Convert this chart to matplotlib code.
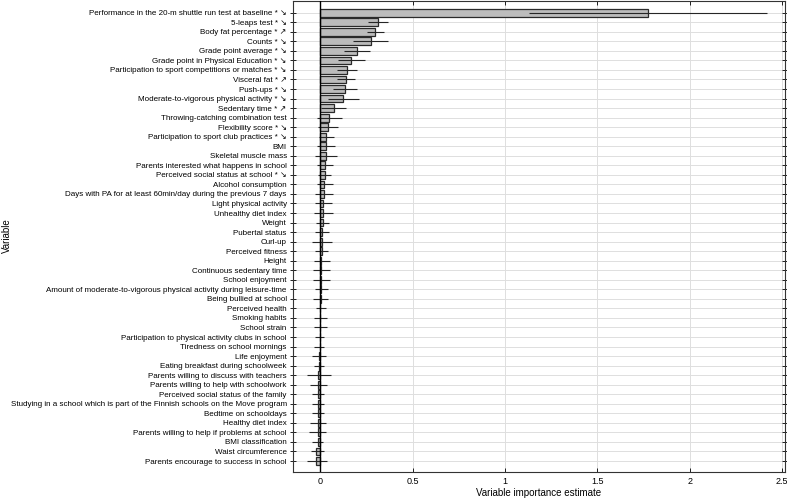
"""Variable importance estimates with uncertainty intervals (horizontal bars)."""

import matplotlib

matplotlib.use("Agg")
import matplotlib.pyplot as plt
import numpy as np

variables = [
    "Performance in the 20-m shuttle run test at baseline * \u2198",
    "5-leaps test * \u2198",
    "Body fat percentage * \u2197",
    "Counts * \u2198",
    "Grade point average * \u2198",
    "Grade point in Physical Education * \u2198",
    "Participation to sport competitions or matches * \u2198",
    "Visceral fat * \u2197",
    "Push-ups * \u2198",
    "Moderate-to-vigorous physical activity * \u2198",
    "Sedentary time * \u2197",
    "Throwing-catching combination test",
    "Flexibility score * \u2198",
    "Participation to sport club practices * \u2198",
    "BMI",
    "Skeletal muscle mass",
    "Parents interested what happens in school",
    "Perceived social status at school * \u2198",
    "Alcohol consumption",
    "Days with PA for at least 60min/day during the previous 7 days",
    "Light physical activity",
    "Unhealthy diet index",
    "Weight",
    "Pubertal status",
    "Curl-up",
    "Perceived fitness",
    "Height",
    "Continuous sedentary time",
    "School enjoyment",
    "Amount of moderate-to-vigorous physical activity during leisure-time",
    "Being bullied at school",
    "Perceived health",
    "Smoking habits",
    "School strain",
    "Participation to physical activity clubs in school",
    "Tiredness on school mornings",
    "Life enjoyment",
    "Eating breakfast during schoolweek",
    "Parents willing to discuss with teachers",
    "Parents willing to help with schoolwork",
    "Perceived social status of the family",
    "Studying in a school which is part of the Finnish schools on the Move program",
    "Bedtime on schooldays",
    "Healthy diet index",
    "Parents willing to help if problems at school",
    "BMI classification",
    "Waist circumference",
    "Parents encourage to success in school",
]

importance = [
    1.775, 0.311, 0.296, 0.276, 0.200, 0.168, 0.146, 0.139, 0.132, 0.123,
    0.074, 0.049, 0.043, 0.033, 0.033, 0.033, 0.025, 0.027, 0.022, 0.020,
    0.016, 0.015, 0.013, 0.009, 0.008, 0.008, 0.006, 0.004, 0.004, 0.004,
    0.002, 0.000, 0.000, -0.004, -0.004, -0.004, -0.005, -0.006, -0.011, -0.011,
    -0.012, -0.013, -0.013, -0.014, -0.015, -0.015, -0.021, -0.021,
]

lower = [
    1.130, 0.260, 0.255, 0.179, 0.130, 0.096, 0.089, 0.089, 0.069, 0.040,
    0.004, -0.016, -0.011, -0.005, -0.016, -0.029, -0.016, -0.014, -0.020, -0.029,
    -0.029, -0.034, -0.023, -0.027, -0.043, -0.029, -0.034, -0.038, -0.038, -0.031,
    -0.038, -0.025, -0.036, -0.036, -0.027, -0.032, -0.043, -0.034, -0.072, -0.054,
    -0.045, -0.045, -0.045, -0.057, -0.059, -0.043, -0.053, -0.070,
]

upper = [
    2.420, 0.368, 0.343, 0.368, 0.269, 0.240, 0.200, 0.186, 0.197, 0.211,
    0.139, 0.116, 0.097, 0.076, 0.080, 0.092, 0.070, 0.056, 0.067, 0.070,
    0.063, 0.067, 0.047, 0.047, 0.065, 0.043, 0.050, 0.054, 0.050, 0.044,
    0.044, 0.031, 0.035, 0.035, 0.022, 0.022, 0.033, 0.020, 0.058, 0.036,
    0.018, 0.018, 0.018, 0.029, 0.028, 0.016, 0.018, 0.035,
]

x_ticks = [0, 0.5, 1, 1.5, 2, 2.5]
x_tick_labels = ["0", "0.5", "1", "1.5", "2", "2.5"]

plt.rcParams["font.family"] = ["Liberation Sans", "DejaVu Sans"]


def plot_importance(save_path="out.png"):
    fig = plt.figure(figsize=(7.87, 4.98), dpi=100)
    ax = fig.add_axes([293 / 787, 1 - 471.7 / 498, (785 - 293) / 787, (471.7 - 1) / 498])

    values = np.asarray(importance)
    rows = np.arange(len(variables))
    xerr = np.vstack([values - np.asarray(lower), np.asarray(upper) - values])

    ax.barh(rows, values, height=0.82, color="#bcbcbc", edgecolor="#2a2a2a",
            linewidth=0.9, zorder=2)
    ax.errorbar(values, rows, xerr=xerr, fmt="none", ecolor="#262626",
                elinewidth=0.8, capsize=0, zorder=3)
    ax.axvline(0, color="black", linewidth=1.0, zorder=4)

    ax.set_xlim(-0.148, 2.516)
    ax.set_ylim(len(variables) - 1 + 1.12, -1.23)
    ax.set_xticks(x_ticks)
    ax.set_xticklabels(x_tick_labels, fontsize=6.5)
    ax.set_yticks(rows)
    ax.set_yticklabels(variables, fontsize=5.75)

    ax.grid(True, color="#dedede", linewidth=0.7, zorder=0)
    ax.set_axisbelow(True)
    ax.tick_params(axis="x", direction="in", length=3, top=True, width=0.6, pad=4)
    ax.tick_params(axis="y", direction="inout", length=5, right=True, width=0.6, pad=2)
    for spine in ax.spines.values():
        spine.set_linewidth(0.8)
        spine.set_color("#333333")

    ax.set_xlabel("Variable importance estimate", fontsize=7, labelpad=1)
    fig.text(1.5 / 787, 1 - 236 / 498, "Variable", rotation=90, fontsize=7,
             ha="left", va="center")

    fig.savefig(save_path, dpi=100)
    return fig


plot_importance()
